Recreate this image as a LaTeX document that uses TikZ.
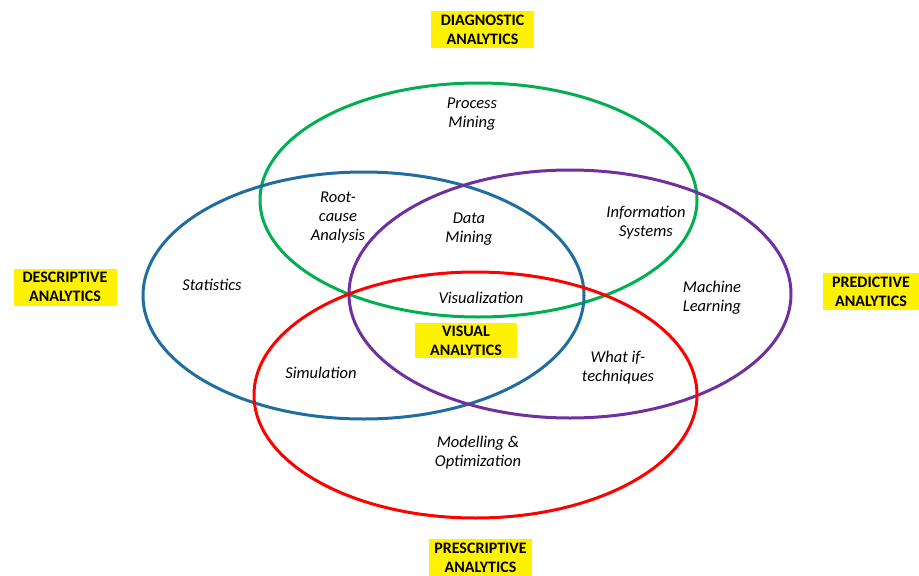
\documentclass[tikz,border=0pt]{standalone}
\usepackage{fontspec}
\setmainfont{Carlito}
\usetikzlibrary{positioning}

\definecolor{vgreen}{RGB}{0,176,80}
\definecolor{vblue}{RGB}{32,110,160}
\definecolor{vpurple}{RGB}{112,48,160}
\definecolor{vred}{RGB}{255,0,0}

\tikzset{
  ring/.style={line width=3pt},
  area/.style={align=center,font=\fontsize{16.5}{19}\selectfont\itshape,inner sep=0pt},
  kind/.style={fill=yellow,align=center,font=\fontsize{16}{19}\selectfont\bfseries,
    minimum width=103pt,minimum height=37pt,inner sep=1pt}
}

\begin{document}
\begin{tikzpicture}[x=1pt,y=-1pt]
  \useasboundingbox (0,0) rectangle (919,576);
  % the four sets
  \draw[ring,vgreen]  (478.5,200) ellipse [x radius=218.5pt,y radius=117pt];
  \draw[ring,vblue]   (363.5,295.5) ellipse [x radius=220.5pt,y radius=123.5pt];
  \draw[ring,vpurple] (570,294) ellipse [x radius=221pt,y radius=124pt];
  \draw[ring,vred]    (475.5,395) ellipse [x radius=221.5pt,y radius=123pt];
  % analytics types
  \node[kind] (diag) at (482.5,29.5) {DIAGNOSTIC\\ANALYTICS};
  \node[kind] (desc) at (65,287) {DESCRIPTIVE\\ANALYTICS};
  \node[kind,minimum width=96pt] (pred) at (871,291.5) {PREDICTIVE\\ANALYTICS};
  \node[kind] (presc) at (480.5,557.5) {PRESCRIPTIVE\\ANALYTICS};
  \node[kind,minimum width=102pt,minimum height=35pt] (visual) at (466,340.5) {VISUAL\\ANALYTICS};
  % techniques
  \node[area] (process) at (472,114.5) {Process\\Mining};
  \node[area] (rootcause) at (338,218) {Root-\\cause\\Analysis};
  \node[area] (datamining) at (469,229) {Data\\Mining};
  \node[area] (infosys) at (646,223) {Information\\Systems};
  \node[area] (stats) at (212,285) {Statistics};
  \node[area] (ml) at (712,297.5) {Machine\\Learning};
  \node[area] (vis) at (481,298) {Visualization};
  \node[area] (sim) at (321,373) {Simulation};
  \node[area] (whatif) at (618,367.5) {What if-\\techniques};
  \node[area] (modopt) at (478,453) {Modelling \&\\Optimization};
\end{tikzpicture}
\end{document}
